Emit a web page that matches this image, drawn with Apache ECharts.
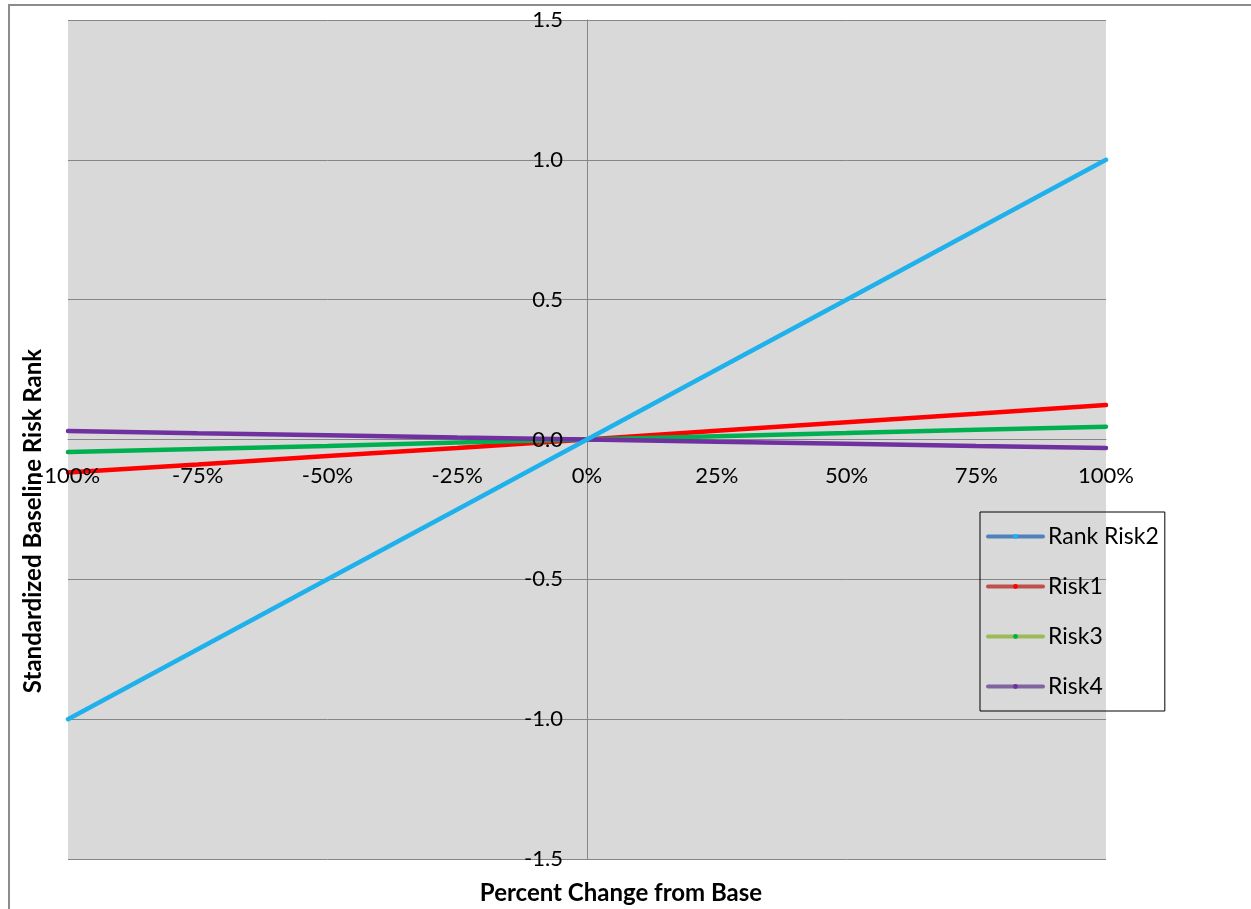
<!DOCTYPE html>
<html>
<head>
<meta charset="utf-8">
<script src="https://cdn.jsdelivr.net/npm/echarts@6/dist/echarts.min.js"></script>
<style>html,body{margin:0;padding:0;background:#fff;}#chart{width:1251px;height:909px;}</style>
</head>
<body>
<div id="chart"></div>
<script>
const xValues = [-1, -0.75, -0.5, -0.25, 0, 0.25, 0.5, 0.75, 1];
const rankRisk2 = [-1, -0.75, -0.5, -0.25, 0, 0.25, 0.5, 0.75, 1];
const risk1 = [-0.118, -0.089, -0.059, -0.030, 0, 0.031, 0.062, 0.092, 0.123];
const risk3 = [-0.045, -0.034, -0.023, -0.011, 0, 0.012, 0.023, 0.035, 0.046];
const risk4 = [0.030, 0.022, 0.015, 0.007, 0, -0.008, -0.015, -0.023, -0.030];
const seriesNames = ['Rank Risk2', 'Risk1', 'Risk3', 'Risk4'];
const xTicks = [-1, -0.75, -0.5, -0.25, 0, 0.25, 0.5, 0.75, 1];
const yTicks = [-1.5, -1.0, -0.5, 0.0, 0.5, 1.0, 1.5];
const xTitle = 'Percent Change from Base';
const yTitle = 'Standardized Baseline Risk Rank';

const FONT = 'Lato, "Open Sans", sans-serif';
const pair = arr => xValues.map((x, i) => [x, arr[i]]);
const lineColors = {'Rank Risk2': '#1FB1EC', 'Risk1': '#FF0000', 'Risk3': '#00B050', 'Risk4': '#7030A0'};
const legendLineColors = {'Rank Risk2': '#4F81BD', 'Risk1': '#C0504D', 'Risk3': '#9BBB59', 'Risk4': '#8064A2'};
const seriesData = {'Rank Risk2': rankRisk2, 'Risk1': risk1, 'Risk3': risk3, 'Risk4': risk4};

function mkSeries(name, z) {
  return {
    name: name, type: 'line', data: pair(seriesData[name]),
    showSymbol: false, symbol: 'circle', symbolSize: 6, z: z,
    lineStyle: {color: lineColors[name], width: 4.5, cap: 'round'},
    itemStyle: {color: lineColors[name]},
    emphasis: {disabled: true}, animation: false
  };
}

const chart = echarts.init(document.getElementById('chart'), null, {renderer: 'canvas'});
chart.setOption({
  animation: false,
  grid: {left: 68, right: 145, top: 20, bottom: 50, show: true, backgroundColor: '#D9D9D9', borderWidth: 0},
  xAxis: {
    type: 'value', min: -1, max: 1, interval: 0.25,
    axisLine: {show: true, onZero: true, lineStyle: {color: '#868686', width: 1}},
    axisTick: {show: false},
    splitLine: {show: false},
    axisLabel: {show: false}
  },
  yAxis: {
    type: 'value', min: -1.5, max: 1.5, interval: 0.5,
    axisLine: {show: true, onZero: true, lineStyle: {color: '#868686', width: 1}},
    axisTick: {show: false},
    splitLine: {show: true, lineStyle: {color: '#868686', width: 1}},
    axisLabel: {show: false}
  },
  legend: {
    orient: 'vertical', left: 980, top: 512,
    data: seriesNames.map(n => ({
      name: n,
      lineStyle: {color: legendLineColors[n], width: 4, cap: 'round'},
      itemStyle: {color: lineColors[n]}
    })),
    itemWidth: 55, itemHeight: 6, itemGap: 27,
    padding: [13, 6, 13, 6],
    borderColor: '#000', borderWidth: 1, backgroundColor: 'transparent',
    textStyle: {fontSize: 23, color: '#000', fontFamily: FONT},
    selectedMode: false
  },
  graphic: [
    {type: 'rect', shape: {x: 9, y: 5, width: 1400, height: 1000}, style: {fill: 'none', stroke: '#8C8C8C', lineWidth: 2}, silent: true},
    {type: 'text', x: 621, y: 893, style: {text: xTitle, font: 'bold 24px ' + FONT, fill: '#000', textAlign: 'center', textVerticalAlign: 'middle'}},
    {type: 'text', x: 33, y: 521, rotation: Math.PI / 2, style: {text: yTitle, font: 'bold 24px ' + FONT, fill: '#000', textAlign: 'center', textVerticalAlign: 'middle'}}
  ],
  series: [
    mkSeries('Risk1', 2), mkSeries('Risk3', 3), mkSeries('Risk4', 4), mkSeries('Rank Risk2', 5),
    {
      name: 'xTickLabels', type: 'scatter', data: xTicks.map(v => [v, 0]), symbolSize: 0, z: 20, silent: true,
      itemStyle: {opacity: 1},
      label: {show: true, position: 'inside', offset: [0, 36], formatter: p => Math.round(p.value[0] * 100) + '%',
        fontSize: 22, color: '#000', fontFamily: FONT, opacity: 1},
      emphasis: {disabled: true}
    },
    {
      name: 'yTickLabels', type: 'scatter', data: yTicks.map(v => [0, v]), symbolSize: 0, z: 20, silent: true,
      itemStyle: {opacity: 1},
      label: {show: true, position: 'left', distance: 24, formatter: p => p.value[1].toFixed(1),
        fontSize: 22, color: '#000', fontFamily: FONT, opacity: 1},
      emphasis: {disabled: true}
    }
  ]
});
</script>
</body>
</html>
